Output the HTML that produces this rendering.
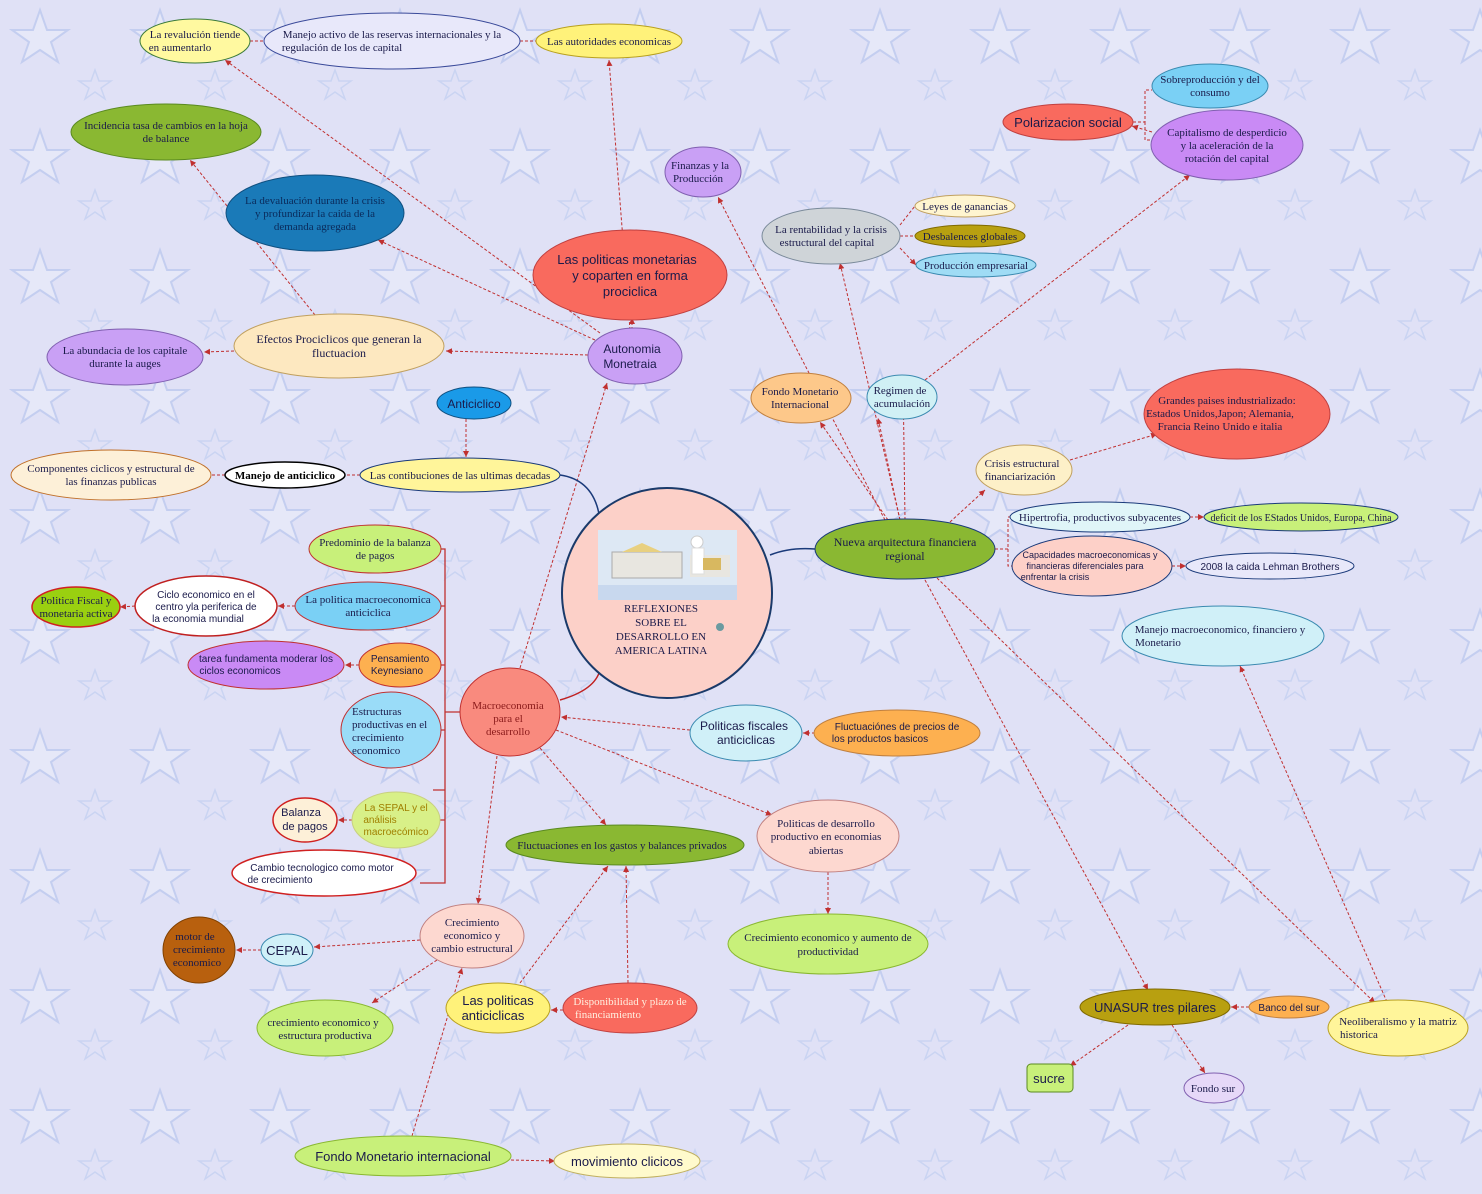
<!DOCTYPE html>
<html><head><meta charset="utf-8"><style>
html,body{margin:0;padding:0;background:#e0e1f6}
svg{display:block}
text{font-family:"Liberation Serif",serif;font-size:11px;fill:#1a1a4a;text-anchor:middle}
.s{font-family:"Liberation Sans",sans-serif}
.e{stroke:#c03030;stroke-width:1;stroke-dasharray:3,2;fill:none;marker-end:url(#a)}
.n{stroke:#c03030;stroke-width:1;stroke-dasharray:3,2;fill:none}
</style></head><body>
<svg width="1482" height="1194" viewBox="0 0 1482 1194" xmlns="http://www.w3.org/2000/svg">
<defs>
<marker id="a" markerWidth="7" markerHeight="7" refX="6" refY="3" orient="auto"><path d="M0,0 L6,3 L0,6 z" fill="#c03030"/></marker>
<pattern id="st" width="120" height="120" patternUnits="userSpaceOnUse">
<path d="M40,10 L47,30 L68,30 L51,42 L58,62 L40,50 L22,62 L29,42 L12,30 L33,30 z" fill="#e6e8f8" stroke="#c4cef0" stroke-width="2"/>
<path d="M95,70 L99,81 L111,81 L101,88 L105,99 L95,92 L85,99 L89,88 L79,81 L91,81 z" fill="none" stroke="#cad4f2" stroke-width="1.5"/>
</pattern>
</defs>
<rect width="1482" height="1194" fill="#e0e1f6"/>
<rect width="1482" height="1194" fill="url(#st)"/>

<g>
<path class="n" d="M250,41 L264,41 M520,41 L536,41"/>
<path class="e" d="M632,330 L632,318"/>
<path class="e" d="M630,330 L609,60"/>
<path class="e" d="M600,333 L225,60"/>
<path class="e" d="M595,340 L378,240"/>
<path class="e" d="M588,355 L446,351"/>
<path class="e" d="M234,351 L204,352"/>
<path class="e" d="M315,315 L190,160"/>
<path class="e" d="M520,668 L607,383"/>
<path class="e" d="M466,419 L466,457"/>
<path class="n" d="M360,475 L345,475 M225,475 L211,475"/>
<path class="e" d="M885,520 L718,197"/>
<path class="e" d="M888,520 L820,422"/>
<path class="e" d="M900,520 L878,418"/>
<path class="e" d="M905,520 L903,376"/>
<path class="e" d="M900,520 L840,263"/>
<path class="e" d="M925,380 L1190,175"/>
<path class="e" d="M900,225 L915,206 M900,236 L915,236 M900,248 L916,265"/>
<path class="e" d="M1152,132 L1132,126"/>
<path class="n" d="M1133,122 L1145,122 L1145,90 L1152,90 M1145,122 L1145,140 L1151,140"/>
<path class="e" d="M1070,460 L1157,434"/>
<path class="e" d="M950,522 L985,490"/>
<path class="n" d="M995,549 L1008,549 L1008,517 L1010,517 M1008,549 L1008,566 L1012,566"/>
<path class="e" d="M1190,517 L1204,517"/>
<path class="e" d="M1172,566 L1186,566"/>
<path class="e" d="M925,580 L1148,990"/>
<path class="e" d="M937,578 L1375,1003"/>
<path class="e" d="M1387,1002 L1240,666"/>
<path class="e" d="M1128,1025 L1070,1066"/>
<path class="e" d="M1172,1025 L1205,1073"/>
<path class="e" d="M1249,1007 L1231,1007"/>
<path class="e" d="M690,730 L561,717"/>
<path class="e" d="M815,733 L803,733"/>
<path class="e" d="M556,730 L772,815"/>
<path class="e" d="M540,748 L606,825"/>
<path class="e" d="M497,756 L478,904"/>
<path class="e" d="M828,872 L828,914"/>
<path class="e" d="M420,940 L314,947"/>
<path class="e" d="M261,950 L236,950"/>
<path class="e" d="M437,960 L372,1003"/>
<path class="e" d="M520,983 L608,866"/>
<path class="e" d="M628,983 L626,866"/>
<path class="e" d="M563,1010 L551,1010"/>
<path class="e" d="M412,1136 L462,968"/>
<path class="e" d="M511,1160 L555,1161"/>
<path class="e" d="M135,606 L120,607"/>
<path class="e" d="M295,606 L278,606"/>
<path class="e" d="M359,665 L345,665"/>
<path class="e" d="M352,820 L338,820"/>
<path d="M441,549 L445,549 L445,883 L420,883 M440,606 L445,606 M441,665 L445,665 M441,730 L445,730 M433,790 L445,790 M440,820 L445,820 M445,712 L460,712" stroke="#c03030" stroke-width="1.3" fill="none"/>
<path d="M560,475 Q595,480 600,520" stroke="#1a3a7a" stroke-width="1.5" fill="none"/>
<path d="M770,555 Q790,547 815,549" stroke="#1a3a7a" stroke-width="1.5" fill="none"/>
<path d="M600,670 Q595,690 560,700" stroke="#c02020" stroke-width="1.5" fill="none"/>
</g>

<ellipse cx="195" cy="41" rx="55" ry="22" fill="#fff9a0" stroke="#3a7a3a"/>
<text x="195" y="38">La revalución tiende</text><text x="180" y="51">en aumentarlo</text>
<ellipse cx="392" cy="41" rx="128" ry="28" fill="#e8e8fa" stroke="#3a4a9a"/>
<text x="392" y="38">Manejo activo de las reservas internacionales y la</text><text x="342" y="51">regulación de los de capital</text>
<ellipse cx="609" cy="41" rx="73" ry="17" fill="#fff27a" stroke="#b8a020"/>
<text x="609" y="45">Las autoridades economicas</text>
<ellipse cx="166" cy="132" rx="95" ry="28" fill="#8ab832" stroke="#5a8a20"/>
<text x="166" y="129">Incidencia tasa de cambios en la hoja</text><text x="166" y="142">de balance</text>
<ellipse cx="315" cy="213" rx="89" ry="38" fill="#1a7ab8" stroke="#105080"/>
<text x="315" y="204" style="fill:#0a2a5a">La devaluación durante la  crisis</text><text x="315" y="217" style="fill:#0a2a5a">y profundizar la caida de la</text><text x="315" y="230" style="fill:#0a2a5a">demanda agregada</text>
<ellipse cx="630" cy="275" rx="97" ry="45" fill="#f96a5e" stroke="#c04040"/>
<text class="s" x="627" y="264" style="font-size:13px">Las politicas monetarias</text><text class="s" x="630" y="280" style="font-size:13px">y coparten  en forma</text><text class="s" x="630" y="296" style="font-size:13px">prociclica</text>
<ellipse cx="703" cy="172" rx="38" ry="25" fill="#c9a0f5" stroke="#8060b0"/>
<text x="700" y="169">Finanzas y la</text><text x="698" y="182">Producción</text>
<ellipse cx="831" cy="236" rx="69" ry="28" fill="#cfd4d8" stroke="#7a8a9a"/>
<text x="831" y="233">La rentabilidad y la crisis</text><text x="827" y="246">estructural del capital</text>
<ellipse cx="965" cy="206" rx="50" ry="11" fill="#fff5d0" stroke="#c0a060"/><text x="965" y="210">Leyes de ganancias</text>
<ellipse cx="970" cy="236" rx="55" ry="11" fill="#b8a010" stroke="#806a00"/><text x="970" y="240">Desbalences globales</text>
<ellipse cx="976" cy="265" rx="60" ry="12" fill="#9fdcf5" stroke="#3a8ab0"/><text x="976" y="269">Producción empresarial</text>
<ellipse cx="1068" cy="122" rx="65" ry="18" fill="#f96a5e" stroke="#c04040"/><text class="s" x="1068" y="127" style="font-size:13px">Polarizacion social</text>
<ellipse cx="1210" cy="86" rx="58" ry="22" fill="#7ad0f5" stroke="#3a8ab0"/><text x="1210" y="83">Sobreproducción y del</text><text x="1210" y="96">consumo</text>
<ellipse cx="1227" cy="145" rx="76" ry="35" fill="#c98af5" stroke="#8060b0"/><text x="1227" y="136">Capitalismo de desperdicio</text><text x="1227" y="149">y la aceleración de la</text><text x="1227" y="162">rotación del capital</text>
<ellipse cx="339" cy="346" rx="105" ry="32" fill="#fde8c0" stroke="#c0a060"/><text x="339" y="343" style="font-size:12px">Efectos Prociclicos que generan la</text><text x="339" y="357" style="font-size:12px">fluctuacion</text>
<ellipse cx="125" cy="357" rx="78" ry="28" fill="#c9a0f5" stroke="#8060b0"/><text x="125" y="354">La abundacia de los capitale</text><text x="125" y="367">durante la auges</text>
<ellipse cx="635" cy="356" rx="47" ry="28" fill="#c9a0f5" stroke="#8060b0"/><text class="s" x="632" y="353" style="font-size:12px">Autonomia</text><text class="s" x="630" y="368" style="font-size:12px">Monetraia</text>
<ellipse cx="474" cy="403" rx="37" ry="16" fill="#1a9ae8" stroke="#105080"/><text class="s" x="474" y="408" style="font-size:12px">Anticiclico</text>
<ellipse cx="801" cy="398" rx="50" ry="25" fill="#fdc88a" stroke="#c08040"/><text x="800" y="395">Fondo Monetario</text><text x="800" y="408">Internacional</text>
<ellipse cx="902" cy="397" rx="35" ry="22" fill="#d0f0f5" stroke="#3a8ab0"/><text x="900" y="394">Regimen de</text><text x="902" y="407">acumulación</text>
<ellipse cx="1237" cy="414" rx="93" ry="45" fill="#f96a5e" stroke="#c04040"/><text x="1227" y="404">Grandes paises industrializado:</text><text x="1220" y="417">Estados Unidos,Japon; Alemania,</text><text x="1220" y="430">Francia Reino Unido e italia</text>
<ellipse cx="1024" cy="470" rx="48" ry="25" fill="#fdf0c8" stroke="#c0a060"/><text x="1022" y="467">Crisis estructural</text><text x="1020" y="480">financiarización</text>
<ellipse cx="111" cy="475" rx="100" ry="25" fill="#fdf0d8" stroke="#c0702a"/><text x="111" y="472">Componentes ciclicos  y estructural de</text><text x="111" y="485">las finanzas publicas</text>
<ellipse cx="285" cy="475" rx="60" ry="13" fill="#fff" stroke="#000" stroke-width="1.5"/><text x="285" y="479" style="font-weight:bold;fill:#000">Manejo de anticiclico</text>
<ellipse cx="460" cy="475" rx="100" ry="17" fill="#fff59a" stroke="#1a3a7a"/><text x="460" y="479">Las contibuciones de las ultimas decadas</text>
<circle cx="667" cy="593" r="105" fill="#fcd0c8" stroke="#1a3a6a" stroke-width="2"/>
<rect x="598" y="530" width="139" height="70" fill="#dde8f4"/>
<rect x="598" y="585" width="139" height="15" fill="#c8d8ee"/>
<rect x="612" y="552" width="70" height="26" fill="#e8e6e0" stroke="#aaa"/>
<polygon points="622,552 642,543 662,552" fill="#e8d080"/>
<rect x="690" y="555" width="40" height="22" fill="#e8e6e0"/>
<circle cx="697" cy="542" r="6" fill="#fff" stroke="#ccc"/>
<rect x="692" y="548" width="12" height="26" fill="#fff" stroke="#ddd"/>
<rect x="703" y="558" width="18" height="12" fill="#d8b860"/>
<text x="661" y="612">REFLEXIONES</text><text x="661" y="626">SOBRE EL</text><text x="661" y="640">DESARROLLO EN</text><text x="661" y="654">AMERICA LATINA</text>
<circle cx="720" cy="627" r="4" fill="#6a9aa0"/>

<ellipse cx="905" cy="549" rx="90" ry="30" fill="#8ab832" stroke="#1a3a7a"/><text x="905" y="546" style="font-size:12px">Nueva arquitectura financiera</text><text x="905" y="560" style="font-size:12px">regional</text>
<ellipse cx="1100" cy="517" rx="90" ry="15" fill="#e0f5f8" stroke="#1a3a7a"/><text x="1100" y="521">Hipertrofia, productivos subyacentes</text>
<ellipse cx="1301" cy="517" rx="97" ry="14" fill="#c8f07a" stroke="#1a3a7a"/><text x="1301" y="521" style="font-size:10px">deficit de los EStados Unidos, Europa, China</text>
<ellipse cx="1092" cy="566" rx="80" ry="30" fill="#fdd0c8" stroke="#1a3a7a"/><text class="s" x="1090" y="558" style="font-size:9px">Capacidades macroeconomicas y</text><text class="s" x="1085" y="569" style="font-size:9px">financieras diferenciales  para</text><text class="s" x="1055" y="580" style="font-size:9px">enfrentar la crisis</text>
<ellipse cx="1270" cy="566" rx="84" ry="13" fill="#e8e8fa" stroke="#1a3a7a"/><text class="s" x="1270" y="570" style="font-size:10px">2008 la caida Lehman Brothers</text>
<ellipse cx="1223" cy="636" rx="101" ry="30" fill="#d0f0f8" stroke="#3a8ab0"/><text x="1220" y="633">Manejo macroeconomico, financiero y</text><text x="1158" y="646">Monetario</text>
<ellipse cx="375" cy="549" rx="66" ry="24" fill="#c8f07a" stroke="#c03030"/><text x="375" y="546">Predominio de la balanza</text><text x="375" y="559">de pagos</text>
<ellipse cx="76" cy="607" rx="44" ry="20" fill="#9ad010" stroke="#d02020" stroke-width="1.5"/><text x="76" y="604">Politica Fiscal y</text><text x="76" y="617">monetaria activa</text>
<ellipse cx="206" cy="606" rx="71" ry="30" fill="#fff" stroke="#c02020" stroke-width="1.5"/><text class="s" x="206" y="598" style="font-size:10px">Ciclo economico en el</text><text class="s" x="206" y="610" style="font-size:10px">centro yla periferica de</text><text class="s" x="198" y="622" style="font-size:10px">la economia mundial</text>
<ellipse cx="368" cy="606" rx="73" ry="24" fill="#7ad0f5" stroke="#c03030"/><text x="368" y="603">La politica macroeconomica</text><text x="368" y="616">anticiclica</text>
<ellipse cx="266" cy="665" rx="78" ry="24" fill="#c98af5" stroke="#c03030"/><text class="s" x="266" y="662" style="font-size:10px">tarea fundamenta moderar los</text><text class="s" x="240" y="674" style="font-size:10px">ciclos economicos</text>
<ellipse cx="400" cy="665" rx="41" ry="22" fill="#fdb050" stroke="#c03030"/><text class="s" x="400" y="662" style="font-size:10px">Pensamiento</text><text class="s" x="397" y="674" style="font-size:10px">Keynesiano</text>
<ellipse cx="510" cy="712" rx="50" ry="44" fill="#f98a7e" stroke="#c03030"/><text x="508" y="709" style="fill:#8a1a1a">Macroeconomia</text><text x="508" y="722" style="fill:#8a1a1a">para el</text><text x="508" y="735" style="fill:#8a1a1a">desarrollo</text>
<ellipse cx="391" cy="730" rx="50" ry="38" fill="#9adcf8" stroke="#c03030"/><text x="352" y="715" style="text-anchor:start">Estructuras</text><text x="352" y="728" style="text-anchor:start">productivas en el</text><text x="352" y="741" style="text-anchor:start">crecimiento</text><text x="352" y="754" style="text-anchor:start">economico</text>
<ellipse cx="746" cy="733" rx="56" ry="28" fill="#d0f0f8" stroke="#3a8ab0"/><text class="s" x="744" y="730" style="font-size:12px">Politicas fiscales</text><text class="s" x="746" y="744" style="font-size:12px">anticiclicas</text>
<ellipse cx="897" cy="733" rx="83" ry="23" fill="#fdb050" stroke="#c08040"/><text class="s" x="897" y="730" style="font-size:10px">Fluctuaciónes de precios de</text><text class="s" x="880" y="742" style="font-size:10px">los productos basicos</text>
<ellipse cx="305" cy="820" rx="32" ry="22" fill="#fdf0d8" stroke="#d02020" stroke-width="1.5"/><text class="s" x="301" y="816" style="font-size:11px">Balanza</text><text class="s" x="305" y="830" style="font-size:11px">de pagos</text>
<ellipse cx="396" cy="820" rx="44" ry="28" fill="#d8f088" stroke="#c8d080"/><text class="s" x="396" y="811" style="font-size:10px;fill:#a08000">La SEPAL y el</text><text class="s" x="380" y="823" style="font-size:10px;fill:#a08000">análisis</text><text class="s" x="396" y="835" style="font-size:10px;fill:#a08000">macroecómico</text>
<ellipse cx="324" cy="873" rx="92" ry="23" fill="#fff" stroke="#d02020" stroke-width="1.5"/><text class="s" x="322" y="871" style="font-size:10px">Cambio tecnologico como motor</text><text class="s" x="280" y="883" style="font-size:10px">de crecimiento</text>
<ellipse cx="828" cy="836" rx="71" ry="36" fill="#fdd8d0" stroke="#c08080"/><text x="826" y="827">Politicas de desarrollo</text><text x="826" y="840">productivo en economias</text><text x="826" y="854">abiertas</text>
<ellipse cx="625" cy="845" rx="119" ry="20" fill="#8ab832" stroke="#5a8a20"/><text x="622" y="849">Fluctuaciones en los gastos y balances privados</text>
<ellipse cx="828" cy="944" rx="100" ry="30" fill="#c8f07a" stroke="#8ab832"/><text x="828" y="941">Crecimiento economico y aumento de</text><text x="828" y="955">productividad</text>
<ellipse cx="472" cy="936" rx="52" ry="32" fill="#fdd8d0" stroke="#c08080"/><text x="472" y="926">Crecimiento</text><text x="472" y="939">economico y</text><text x="472" y="952">cambio estructural</text>
<ellipse cx="199" cy="950" rx="36" ry="33" fill="#b8600e" stroke="#804000"/><text x="195" y="940">motor de</text><text x="199" y="953">crecimiento</text><text x="197" y="966">economico</text>
<ellipse cx="287" cy="950" rx="26" ry="16" fill="#d0f0f8" stroke="#3a8ab0"/><text class="s" x="287" y="955" style="font-size:13px">CEPAL</text>
<ellipse cx="325" cy="1028" rx="68" ry="28" fill="#c8f07a" stroke="#8ab832"/><text x="323" y="1026">crecimiento economico y</text><text x="325" y="1039">estructura productiva</text>
<ellipse cx="498" cy="1008" rx="52" ry="25" fill="#fff27a" stroke="#b8a020"/><text class="s" x="498" y="1005" style="font-size:13px">Las politicas</text><text class="s" x="493" y="1020" style="font-size:13px">anticiclicas</text>
<ellipse cx="630" cy="1008" rx="67" ry="25" fill="#f96a5e" stroke="#c04040"/><text x="630" y="1005" style="fill:#fff0e0">Disponibilidad y plazo de</text><text x="608" y="1018" style="fill:#fff0e0">financiamiento</text>
<ellipse cx="1155" cy="1007" rx="75" ry="18" fill="#b8a010" stroke="#806a00"/><text class="s" x="1155" y="1012" style="font-size:13px">UNASUR tres pilares</text>
<ellipse cx="1289" cy="1007" rx="40" ry="11" fill="#fdb050" stroke="#c08040"/><text class="s" x="1289" y="1011" style="font-size:10px">Banco del sur</text>
<ellipse cx="1398" cy="1028" rx="70" ry="28" fill="#fff59a" stroke="#b8a020"/><text x="1398" y="1025">Neoliberalismo y la matriz</text><text x="1359" y="1038">historica</text>
<rect x="1027" y="1064" width="46" height="28" rx="4" fill="#c8f07a" stroke="#5a8a20"/><text class="s" x="1049" y="1083" style="font-size:13px">sucre</text>
<ellipse cx="1214" cy="1088" rx="30" ry="15" fill="#e6d8f8" stroke="#8060b0"/><text x="1213" y="1092">Fondo sur</text>
<ellipse cx="403" cy="1156" rx="108" ry="20" fill="#c8f07a" stroke="#8ab832"/><text class="s" x="403" y="1161" style="font-size:13px">Fondo Monetario internacional</text>
<ellipse cx="627" cy="1161" rx="73" ry="17" fill="#fffacc" stroke="#c0b060"/><text class="s" x="627" y="1166" style="font-size:13px">movimiento clicicos</text>
</svg>
</body></html>
